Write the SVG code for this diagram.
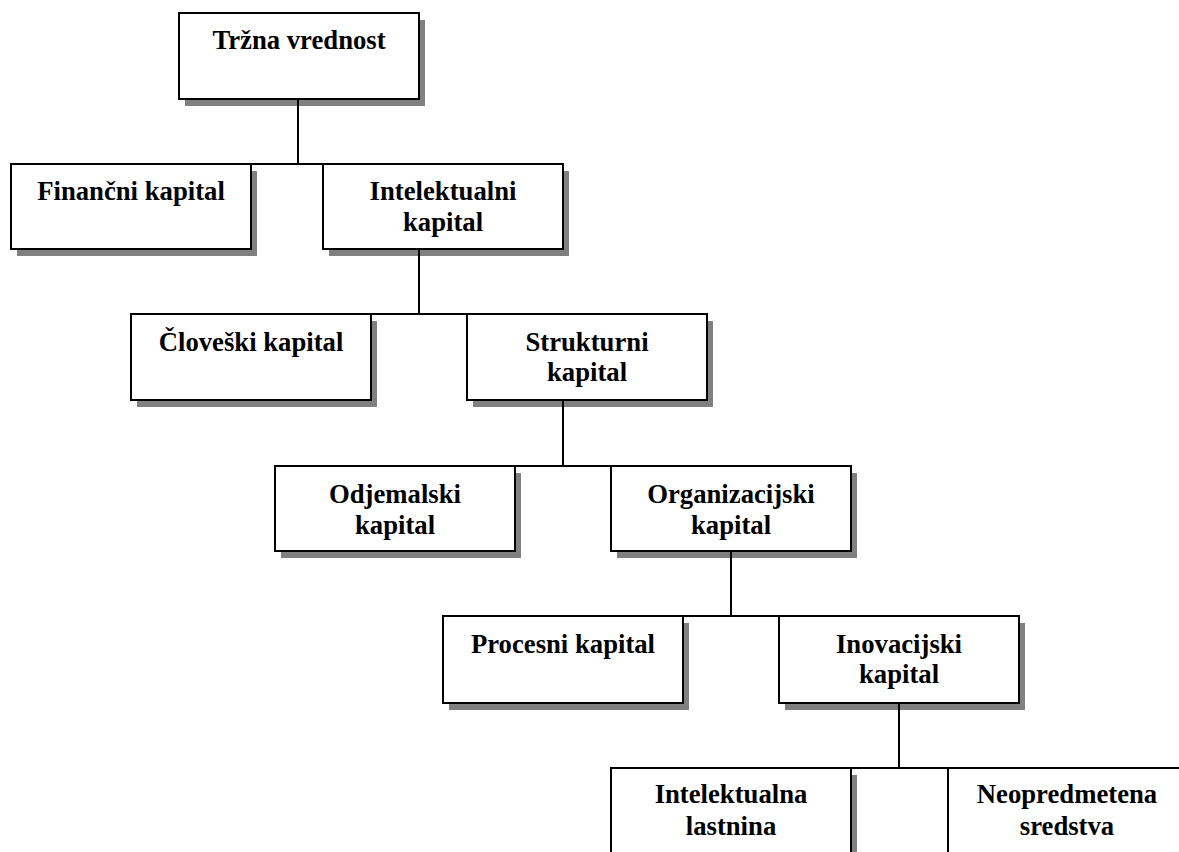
<svg xmlns="http://www.w3.org/2000/svg" width="1179" height="852" viewBox="0 0 1179 852">
<style>
.sh{fill:#808080;stroke:none}
.bx{fill:#ffffff;stroke:#000000;stroke-width:2}
.t{font-family:"Liberation Serif","Times New Roman",serif;font-weight:bold;font-size:26.7px;fill:#000000;text-anchor:middle}
.c{fill:none;stroke:#000000;stroke-width:2}
</style>
<rect width="1179" height="852" fill="#ffffff"/>
<g id="n1"><rect class="sh" x="185" y="20" width="240" height="86"/><rect class="bx" x="179" y="13" width="240" height="86"/><text class="t" x="299" y="49">Tržna vrednost</text></g>
<g id="n2"><rect class="sh" x="17" y="171" width="240" height="85"/><rect class="bx" x="11" y="164" width="240" height="85"/><text class="t" x="131" y="200">Finančni kapital</text></g>
<g id="n3"><rect class="sh" x="329" y="171" width="240" height="85"/><rect class="bx" x="323" y="164" width="240" height="85"/><text class="t" x="443" y="200">Intelektualni</text><text class="t" x="443" y="231">kapital</text></g>
<g id="n4"><rect class="sh" x="137" y="321" width="240" height="86"/><rect class="bx" x="131" y="314" width="240" height="86"/><text class="t" x="251" y="351">Človeški kapital</text></g>
<g id="n5"><rect class="sh" x="473" y="321" width="240" height="86"/><rect class="bx" x="467" y="314" width="240" height="86"/><text class="t" x="587" y="351">Strukturni</text><text class="t" x="587" y="381">kapital</text></g>
<g id="n6"><rect class="sh" x="281" y="473" width="240" height="85"/><rect class="bx" x="275" y="466" width="240" height="85"/><text class="t" x="395" y="503">Odjemalski</text><text class="t" x="395" y="534">kapital</text></g>
<g id="n7"><rect class="sh" x="617" y="473" width="240" height="85"/><rect class="bx" x="611" y="466" width="240" height="85"/><text class="t" x="731" y="503">Organizacijski</text><text class="t" x="731" y="534">kapital</text></g>
<g id="n8"><rect class="sh" x="449" y="623" width="240" height="87"/><rect class="bx" x="443" y="616" width="240" height="87"/><text class="t" x="563" y="653">Procesni kapital</text></g>
<g id="n9"><rect class="sh" x="785" y="623" width="240" height="87"/><rect class="bx" x="779" y="616" width="240" height="87"/><text class="t" x="899" y="653">Inovacijski</text><text class="t" x="899" y="683">kapital</text></g>
<g id="n10"><rect class="sh" x="617" y="775" width="240" height="90"/><rect class="bx" x="611" y="768" width="240" height="90"/><text class="t" x="731" y="803">Intelektualna</text><text class="t" x="731" y="835">lastnina</text></g>
<g id="n11"><rect class="sh" x="954" y="775" width="240" height="90"/><rect class="bx" x="948" y="768" width="240" height="90"/><text class="t" x="1067" y="803">Neopredmetena</text><text class="t" x="1067" y="835">sredstva</text></g>
<g id="connectors">
<path class="c" d="M298,99 V164 M251,164 H323"/>
<path class="c" d="M419,249 V314 M371,314 H467"/>
<path class="c" d="M563,400 V466 M515,466 H611"/>
<path class="c" d="M731,551 V616 M683,616 H779"/>
<path class="c" d="M899,703 V768 M851,768 H948"/>
</g>
</svg>
